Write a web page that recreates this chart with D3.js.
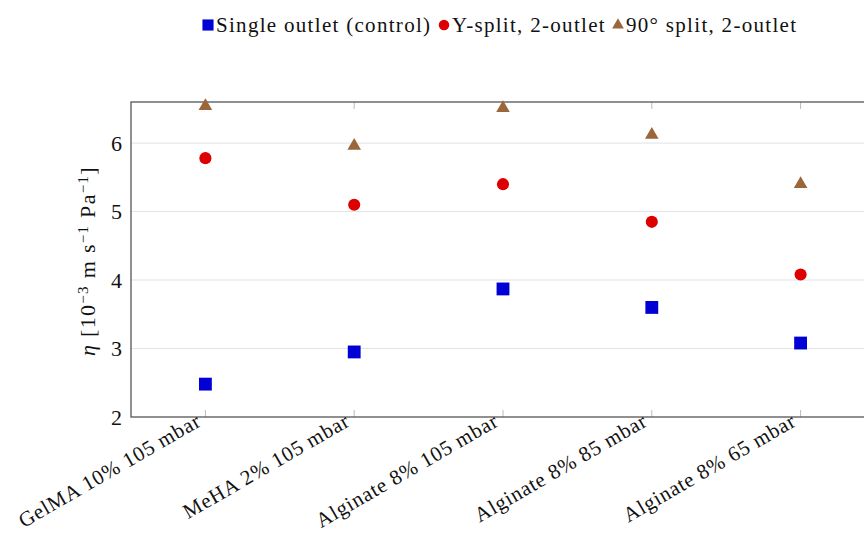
<!DOCTYPE html>
<html>
<head>
<meta charset="utf-8">
<script src="https://cdn.jsdelivr.net/npm/d3@7"></script>
<style>
  body { margin: 0; background: #fff; }
  text { font-family: "Liberation Serif", "DejaVu Serif", serif; fill: #111; }
</style>
</head>
<body>
<script>
var w = 864;
var h = 534;

var categories = ["GelMA 10% 105 mbar", "MeHA 2% 105 mbar", "Alginate 8% 105 mbar",
                  "Alginate 8% 85 mbar", "Alginate 8% 65 mbar"];
var seriesNames = ["Single outlet (control)", "Y-split, 2-outlet", "90° split, 2-outlet"];
var singleOutlet = [2.48, 2.95, 3.87, 3.60, 3.08];
var ySplit = [5.78, 5.10, 5.40, 4.85, 4.08];
var split90 = [6.54, 5.96, 6.51, 6.12, 5.40];
var yTicks = [2, 3, 4, 5, 6];

var colors = ["#0000d4", "#dd0000", "#9a663a"];
var shapes = [d3.symbolSquare, d3.symbolCircle, d3.symbolTriangle];
var sizes = [165, 115, 80];

var pLeft = 131, pRight = 875, pTop = 102, pBottom = 417;

var svg = d3.select("body")
    .append("svg")
    .attr("width", w)
    .attr("height", h);

var x = d3.scalePoint()
    .domain(categories)
    .range([pLeft, pRight])
    .padding(0.5);

var y = d3.scaleLinear()
    .domain([2, 6.6])
    .range([pBottom, pTop]);

// grid lines
svg.selectAll(".grid")
    .data(yTicks.slice(1))
    .enter()
    .append("line")
    .attr("x1", pLeft)
    .attr("x2", pRight)
    .attr("y1", function (d) { return y(d); })
    .attr("y2", function (d) { return y(d); })
    .attr("stroke", "#e2e2e2")
    .attr("stroke-width", 1);

// small category ticks on top and bottom
categories.forEach(function (c) {
    svg.append("line")
        .attr("x1", x(c)).attr("x2", x(c))
        .attr("y1", pBottom).attr("y2", pBottom - 7)
        .attr("stroke", "#bbb");
    svg.append("line")
        .attr("x1", x(c)).attr("x2", x(c))
        .attr("y1", pTop).attr("y2", pTop + 7)
        .attr("stroke", "#bbb");
});

// frame
svg.append("rect")
    .attr("x", pLeft)
    .attr("y", pTop)
    .attr("width", pRight - pLeft)
    .attr("height", pBottom - pTop)
    .attr("fill", "none")
    .attr("stroke", "#555")
    .attr("stroke-width", 1.3);

// y tick labels
svg.selectAll(".ytick")
    .data(yTicks)
    .enter()
    .append("text")
    .attr("x", pLeft - 9)
    .attr("y", function (d) { return y(d); })
    .attr("dy", "0.35em")
    .attr("text-anchor", "end")
    .attr("font-size", 22)
    .text(function (d) { return d; });

// x tick labels (rotated)
svg.selectAll(".xtick")
    .data(categories)
    .enter()
    .append("text")
    .attr("transform", function (d) {
        return "translate(" + (x(d) - 3) + "," + (pBottom + 8) + ") rotate(-30)";
    })
    .attr("text-anchor", "end")
    .attr("font-size", 21)
    .attr("letter-spacing", 0.8)
    .text(function (d) { return d; });

// y axis label
var yl = svg.append("text")
    .attr("transform", "translate(95," + 261 + ") rotate(-90)")
    .attr("text-anchor", "middle")
    .attr("font-size", 22)
    .attr("letter-spacing", 1.3);
yl.append("tspan").attr("font-style", "italic").text("η ");
yl.append("tspan").text("[10");
yl.append("tspan").attr("font-size", 15).attr("baseline-shift", "45%").text("−3");
yl.append("tspan").text(" m s");
yl.append("tspan").attr("font-size", 15).attr("baseline-shift", "45%").text("−1");
yl.append("tspan").text(" Pa");
yl.append("tspan").attr("font-size", 15).attr("baseline-shift", "45%").text("−1");
yl.append("tspan").text("]");

// points
var allSeries = [singleOutlet, ySplit, split90];
allSeries.forEach(function (vals, si) {
    svg.selectAll(".s" + si)
        .data(vals)
        .enter()
        .append("path")
        .attr("d", d3.symbol().type(shapes[si]).size(sizes[si]))
        .attr("transform", function (d, i) {
            return "translate(" + x(categories[i]) + "," + y(d) + ")";
        })
        .attr("fill", colors[si]);
});

// legend
var legendX = [208, 444, 618];
seriesNames.forEach(function (name, si) {
    svg.append("path")
        .attr("d", d3.symbol().type(shapes[si]).size(sizes[si] * 0.75))
        .attr("transform", "translate(" + legendX[si] + ",25)")
        .attr("fill", colors[si]);
    svg.append("text")
        .attr("x", legendX[si] + 8)
        .attr("y", 25)
        .attr("dy", "0.35em")
        .attr("font-size", 21)
        .attr("letter-spacing", 1.3)
        .text(name);
});
</script>
</body>
</html>
